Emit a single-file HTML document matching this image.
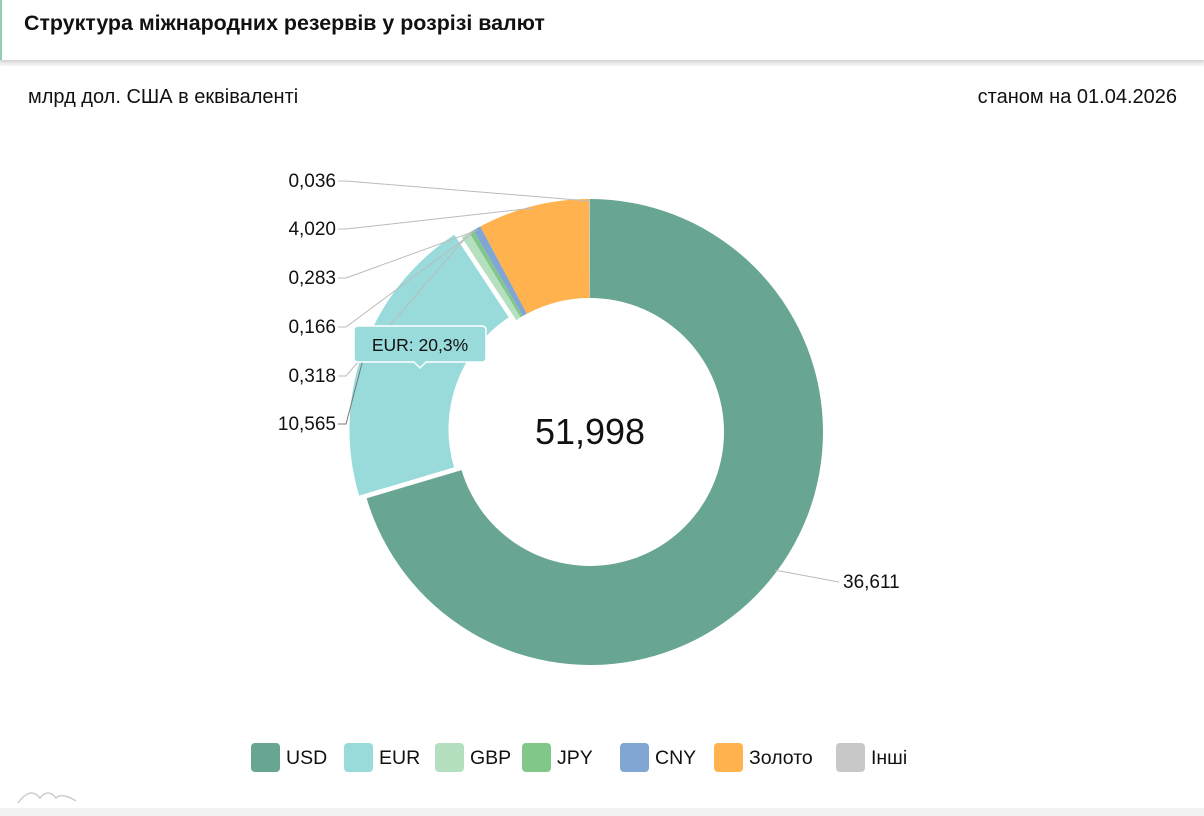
<!DOCTYPE html>
<html><head><meta charset="utf-8"><style>
body{margin:0;width:1204px;height:816px;background:#f2f2f2;font-family:"Liberation Sans","Noto Sans CJK SC",sans-serif;overflow:hidden;position:relative}
.hdr{position:absolute;left:0;top:0;width:1204px;height:60px;background:#fff;border-left:2px solid #8fd0b0;box-sizing:border-box;box-shadow:0 2px 3px rgba(0,0,0,.15)}
.hdr span{position:absolute;left:22px;top:11px;font-size:21.4px;font-weight:bold;color:#111}
.body{position:absolute;left:0;top:66px;width:1204px;height:742px;background:#fff}
.sub{position:absolute;top:86px;font-size:20px;color:#111}
svg{position:absolute;left:0;top:0}
</style></head><body>
<div class="hdr"><span>Структура міжнародних резервів у розрізі валют</span></div>
<div class="body"></div>
<div class="sub" style="left:28px">млрд дол. США в еквіваленті</div>
<div class="sub" style="right:27px">станом на 01.04.2026</div>
<svg id="c" width="1204" height="816"></svg>
<script>
const categories=["USD","EUR","GBP","JPY","CNY","Золото","Інші"];
const values=[36.611,10.565,0.318,0.166,0.283,4.020,0.036];
const valueLabels=["36,611","10,565","0,318","0,166","0,283","4,020","0,036"];
const colors=["#68a693","#99dbdb","#b5e0c0","#82c78a","#82a6d3","#ffb24d","#c8c8c8"];
const totalLabel="51,998";
const NS="http://www.w3.org/2000/svg";
const svg=document.getElementById('c');
const cx=590,cy=432,R=233,r=134;
const total=values.reduce((a,b)=>a+b,0);
function mk(t,a){const e=document.createElementNS(NS,t);for(const k in a)e.setAttribute(k,a[k]);svg.appendChild(e);return e;}
function pt(ang,rad,ox,oy){return [ox+rad*Math.sin(ang),oy-rad*Math.cos(ang)];}
let a0=0;
const leftLabelY=[424,376,327,278,229,181];
values.forEach((v,i)=>{
  const a1=a0+v/total*2*Math.PI, mid=(a0+a1)/2;
  let ox=cx,oy=cy;
  if(i===1){ox+=8*Math.sin(mid);oy-=8*Math.cos(mid);}
  const large=(a1-a0)>Math.PI?1:0;
  const p1=pt(a0,R,ox,oy),p2=pt(a1,R,ox,oy),p3=pt(a1,r,ox,oy),p4=pt(a0,r,ox,oy);
  const p=mk('path',{d:`M${p1}A${R},${R} 0 ${large} 1 ${p2}L${p3}A${r},${r} 0 ${large} 0 ${p4}Z`,fill:colors[i]});
  
  
  const e=pt(mid,R-2,ox,oy);
  let lx,ly,anchor;
  if(i===0){lx=843;ly=582;anchor='start';mk('polyline',{points:`${e} ${lx-4},${ly}`,fill:'none',stroke:'#bbb','stroke-width':1});}
  else{lx=336;ly=leftLabelY[i-1];anchor='end';mk('polyline',{points:`${lx+2},${ly} ${lx+10},${ly} ${e}`,fill:'none',stroke:i===1?'#777':'#bbb','stroke-width':1});}
  const t=mk('text',{x:lx,y:ly+6,'text-anchor':anchor,'font-size':19,fill:'#111','font-family':'Liberation Sans, sans-serif'});
  t.textContent=valueLabels[i];
  
  
  a0=a1;
});
const tt=mk('text',{x:cx,y:444,'text-anchor':'middle','font-size':36,fill:'#111','font-family':'Liberation Sans, sans-serif'});
tt.textContent=totalLabel;


const tip=mk('path',{d:'M358,326 H482 Q486,326 486,330 V358 Q486,362 482,362 H426 L420,368 L414,362 H358 Q354,362 354,358 V330 Q354,326 358,326Z',fill:'#99dbdb',stroke:'#fff','stroke-width':1.5});


const tpt=mk('text',{x:420,y:351,'text-anchor':'middle','font-size':17.5,fill:'#111','font-family':'Liberation Sans, sans-serif'});
tpt.textContent='EUR: 20,3%';


const legX=[251,344,435,522,620,714,836];
categories.forEach((c,i)=>{
  const g=document.createElementNS(NS,'g');svg.appendChild(g);
  
  
  const rc=document.createElementNS(NS,'rect');
  [['x',legX[i]],['y',743],['width',29],['height',29],['rx',4],['fill',colors[i]]].forEach(([k,v])=>rc.setAttribute(k,v));
  g.appendChild(rc);
  const t=document.createElementNS(NS,'text');
  [['x',legX[i]+35],['y',764],['font-size',19.5],['fill','#111'],['font-family','Liberation Sans, sans-serif']].forEach(([k,v])=>t.setAttribute(k,v));
  t.textContent=c;g.appendChild(t);
});
const logo=mk('path',{d:'M18,803 Q30,786 40,798 Q48,788 56,798 Q62,792 76,801',fill:'none',stroke:'#ccc','stroke-width':1.5});


</script>
</body></html>
